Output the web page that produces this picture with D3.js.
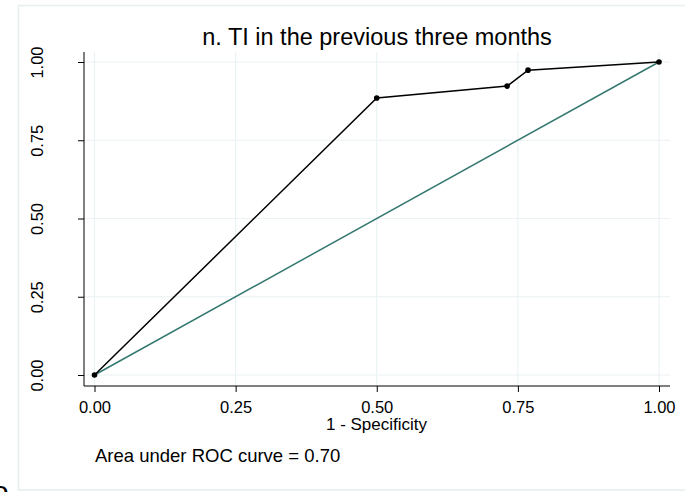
<!DOCTYPE html>
<html><head><meta charset="utf-8">
<script src="https://cdn.jsdelivr.net/npm/d3@7"></script>
<style>body{margin:0;background:#fff}svg{display:block;font-family:"Liberation Sans",Arial,Helvetica,sans-serif}</style>
</head><body>
<script>
const title = "n. TI in the previous three months";
const fpr = [0, 0.50, 0.731, 0.768, 1];
const tpr = [0, 0.885, 0.923, 0.974, 1];
const ticks = [0, 0.25, 0.5, 0.75, 1];
const xLabel = "1 - Specificity";
const aucText = "Area under ROC curve = 0.70";

const W = 685, H = 492;
const svg = d3.select("body").append("svg").attr("width", W).attr("height", H);
const FF = '"Liberation Sans",Arial,Helvetica,sans-serif';

// outer frame
svg.append("rect").attr("x", 18.5).attr("y", 5.5).attr("width", 670).attr("height", 484.5)
  .attr("fill", "#fff").attr("stroke", "#e6eef0").attr("stroke-width", 1.5);

// clipped glyph at bottom-left (partially outside the page, as in the reference)
svg.append("text").attr("x", -8).attr("y", 502).attr("font-size", 30).attr("font-family", FF)
  .attr("fill", "#000").text("o");

const x = d3.scaleLinear().domain([0, 1]).range([94.5, 659]);
const y = d3.scaleLinear().domain([0, 1]).range([375, 62]);
const L = 84, R = 670, T = 52, B = 386;

// grid
const g = svg.append("g");
g.selectAll(".hg").data(ticks).join("line")
  .attr("x1", L).attr("x2", R).attr("y1", d => y(d)).attr("y2", d => y(d))
  .attr("stroke", "#eaf2f3").attr("stroke-width", 1.2);
g.selectAll(".vg").data(ticks).join("line")
  .attr("y1", T).attr("y2", B).attr("x1", d => x(d)).attr("x2", d => x(d))
  .attr("stroke", "#eaf2f3").attr("stroke-width", 1.2);

// axes
const xAxis = svg.append("g").attr("transform", `translate(0,${B})`)
  .call(d3.axisBottom(x).tickValues(ticks).tickFormat(d3.format(".2f")).tickSize(6).tickSizeOuter(0));
xAxis.attr("font-size", 16.5).attr("font-family", FF);
xAxis.select(".domain").attr("d", `M${L},0H${R}`).attr("stroke", "#000");
xAxis.selectAll(".tick line").attr("stroke", "#000");
xAxis.selectAll(".tick text").attr("fill", "#000").attr("y", 27).attr("dy", null);

const yAxis = svg.append("g").attr("transform", `translate(${L},0)`)
  .call(d3.axisLeft(y).tickValues(ticks).tickFormat(d3.format(".2f")).tickSize(6).tickSizeOuter(0));
yAxis.attr("font-size", 16.5).attr("font-family", FF);
yAxis.select(".domain").attr("d", `M0,${T}V${B}`).attr("stroke", "#000");
yAxis.selectAll(".tick line").attr("stroke", "#000");
yAxis.selectAll(".tick text").attr("fill", "#000")
  .attr("x", null).attr("dy", null)
  .attr("transform", "translate(-47,0) rotate(-90)")
  .attr("text-anchor", "middle").attr("dominant-baseline", "central");

// reference line
svg.append("line").attr("x1", x(0)).attr("y1", y(0)).attr("x2", x(1)).attr("y2", y(1))
  .attr("stroke", "#34786f").attr("stroke-width", 1.5);

// ROC curve
const pts = fpr.map((v, i) => [v, tpr[i]]);
svg.append("path").attr("d", d3.line().x(d => x(d[0])).y(d => y(d[1]))(pts))
  .attr("fill", "none").attr("stroke", "#000").attr("stroke-width", 1.5);
svg.selectAll(".pt").data(pts).join("circle")
  .attr("cx", d => x(d[0])).attr("cy", d => y(d[1])).attr("r", 2.8).attr("fill", "#000");

// title & labels
svg.append("text").attr("x", (L + R) / 2).attr("y", 45).attr("text-anchor", "middle")
  .attr("font-size", 23.5).attr("fill", "#000").text(title);
svg.append("text").attr("x", (L + R) / 2 - 0.5).attr("y", 430).attr("text-anchor", "middle")
  .attr("font-size", 17).attr("fill", "#000").text(xLabel);
svg.append("text").attr("x", 95).attr("y", 462)
  .attr("font-size", 18.5).attr("fill", "#000").text(aucText);
</script>
</body></html>
